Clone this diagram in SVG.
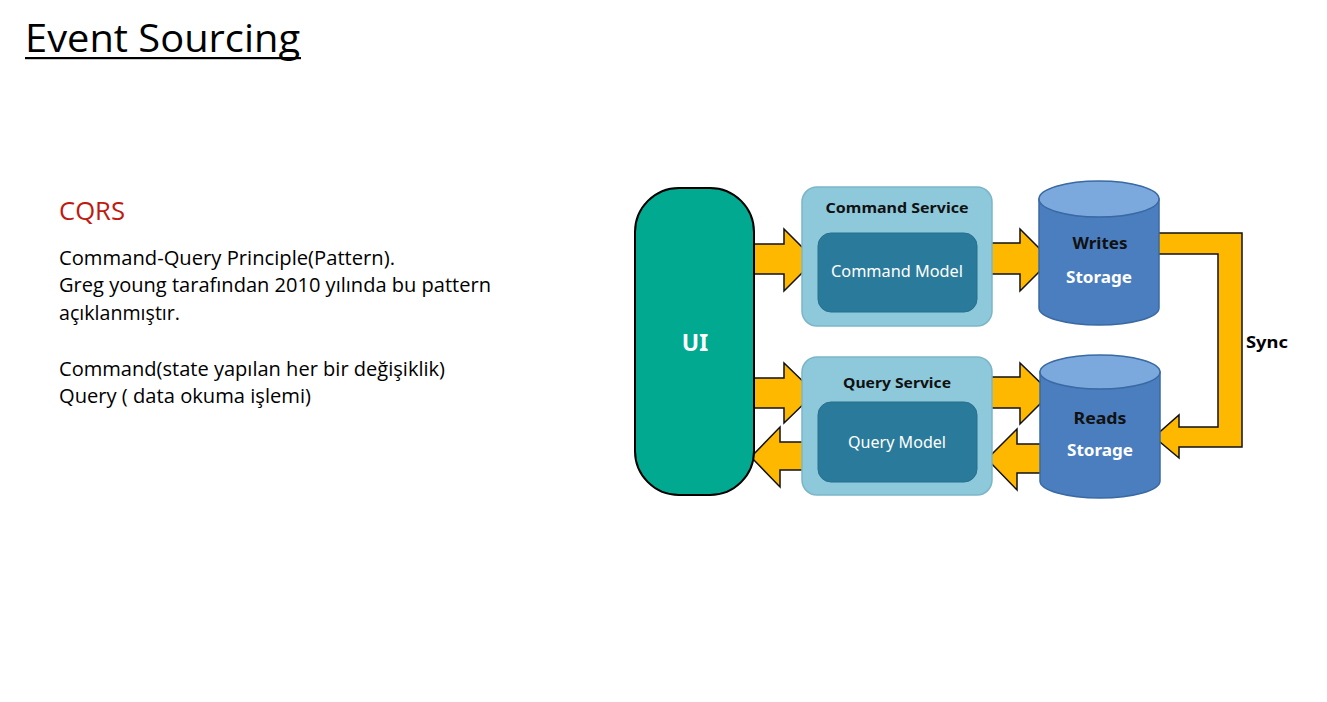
<svg xmlns="http://www.w3.org/2000/svg" width="1327" height="702" viewBox="0 0 1327 702">
<style>
.slide{font-family:"Open Sans","Liberation Sans",sans-serif;fill:#000}
.body{font-size:20px}
.dg{font-family:"Noto Sans","Open Sans",sans-serif;text-anchor:middle}
.svc{fill:#8DC9DB;stroke:#7BB6C8;stroke-width:1.5}
.mdl{fill:#2A7B9B;stroke:#276F8C;stroke-width:1}
.arrow{fill:#FFB800;stroke:#111;stroke-width:1.5;stroke-linejoin:miter}
.cyl{fill:#4A7EBF;stroke:#3A69A3;stroke-width:1.5}
.cyltop{fill:#7BA9DE;stroke:#3A69A3;stroke-width:1.5}
</style>
<rect width="1327" height="702" fill="#fff"/>
<g id="title">
<text class="slide" x="25" y="52" font-size="38" textLength="275" lengthAdjust="spacingAndGlyphs">Event Sourcing</text>
<rect x="25" y="57" width="276" height="2.2" fill="#000"/>
</g>
<g id="text-block">
<text class="slide" x="59" y="220" font-size="25" style="fill:#C0190F" textLength="66" lengthAdjust="spacingAndGlyphs">CQRS</text>
<text class="slide body" x="59" y="265" textLength="336" lengthAdjust="spacingAndGlyphs">Command-Query Principle(Pattern).</text>
<text class="slide body" x="59" y="292" textLength="432" lengthAdjust="spacingAndGlyphs">Greg young tarafından 2010 yılında bu pattern</text>
<text class="slide body" x="59" y="320" textLength="121" lengthAdjust="spacingAndGlyphs">açıklanmıştır.</text>
<text class="slide body" x="59" y="376" textLength="386" lengthAdjust="spacingAndGlyphs">Command(state yapılan her bir değişiklik)</text>
<text class="slide body" x="59" y="403" textLength="252" lengthAdjust="spacingAndGlyphs">Query ( data okuma işlemi)</text>
</g>
<g id="connectors">
<polygon class="arrow" points="750,244 784,244 784,229 815,260 784,291 784,274 750,274"/>
<polygon class="arrow" points="750,378 784,378 784,363 815,393 784,423 784,408 750,408"/>
<polygon class="arrow" points="815,442 780,442 780,427 751,457 780,487 780,470 815,470"/>
<polygon class="arrow" points="986,243 1020,243 1020,229 1051,260 1020,291 1020,274 986,274"/>
<polygon class="arrow" points="986,377 1020,377 1020,363 1051,393 1020,424 1020,408 986,408"/>
<polygon class="arrow" points="1051,444 1017,444 1017,429 987,459 1017,490 1017,473 1051,473"/>
<polygon class="arrow" points="1155,233 1242,233 1242,447 1179,447 1179,458 1154,437 1179,415 1179,427 1218,427 1218,254 1155,254"/>
<text class="dg" x="1267" y="348" font-size="16" font-weight="bold" textLength="42" lengthAdjust="spacingAndGlyphs">Sync</text>
</g>
<g id="ui">
<rect x="635" y="188" width="119" height="307" rx="44" fill="#00A98F" stroke="#000" stroke-width="2"/>
<text class="dg" x="695" y="351" font-size="23" font-weight="bold" fill="#fff">UI</text>
</g>
<g id="command-service">
<rect class="svc" x="802" y="187" width="190" height="139" rx="15"/>
<text class="dg" x="897" y="213" font-size="15" font-weight="bold" fill="#111" textLength="143" lengthAdjust="spacingAndGlyphs">Command Service</text>
<rect class="mdl" x="818" y="233" width="159" height="79" rx="13"/>
<text class="dg" x="897" y="277" font-size="16" fill="#fff" textLength="132" lengthAdjust="spacingAndGlyphs">Command Model</text>
</g>
<g id="query-service">
<rect class="svc" x="802" y="357" width="190" height="138" rx="15"/>
<text class="dg" x="897" y="388" font-size="15" font-weight="bold" fill="#111" textLength="108" lengthAdjust="spacingAndGlyphs">Query Service</text>
<rect class="mdl" x="818" y="402" width="159" height="80" rx="13"/>
<text class="dg" x="897" y="448" font-size="16" fill="#fff" textLength="98" lengthAdjust="spacingAndGlyphs">Query Model</text>
</g>
<g id="writes-storage">
<path class="cyl" d="M1039,199 L1039,308 A60,17 0 0 0 1159,308 L1159,199 Z"/>
<ellipse class="cyltop" cx="1099" cy="199" rx="60" ry="18"/>
<text class="dg" x="1100" y="249" font-size="16.5" font-weight="bold" fill="#111" textLength="55" lengthAdjust="spacingAndGlyphs">Writes</text>
<text class="dg" x="1099" y="283" font-size="16.5" font-weight="bold" fill="#fff" textLength="66" lengthAdjust="spacingAndGlyphs">Storage</text>
</g>
<g id="reads-storage">
<path class="cyl" d="M1040,372 L1040,481 A60,17 0 0 0 1160,481 L1160,372 Z"/>
<ellipse class="cyltop" cx="1100" cy="372" rx="60" ry="17"/>
<text class="dg" x="1100" y="424" font-size="16.5" font-weight="bold" fill="#111" textLength="53" lengthAdjust="spacingAndGlyphs">Reads</text>
<text class="dg" x="1100" y="456" font-size="16.5" font-weight="bold" fill="#fff" textLength="66" lengthAdjust="spacingAndGlyphs">Storage</text>
</g>
</svg>
